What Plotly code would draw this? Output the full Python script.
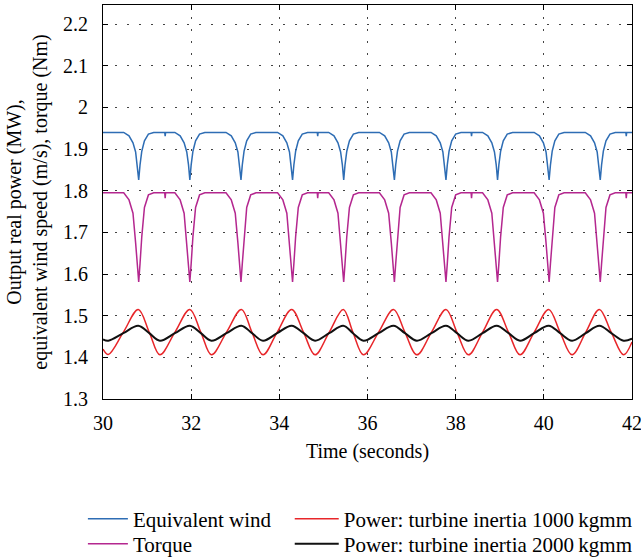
import plotly.graph_objects as go

# ---- data ----
dip_time = [30.0,
            30.47, 30.59, 30.68, 30.74, 30.78, 30.81, 30.84, 30.88, 30.94, 31.03, 31.15,
            31.40, 31.41, 31.42,
            31.63, 31.75, 31.84, 31.90, 31.94, 31.97, 32.00, 32.04, 32.10, 32.19, 32.31,
            32.79, 32.91, 33.00, 33.06, 33.10, 33.13, 33.16, 33.20, 33.26, 33.35, 33.47,
            33.96, 34.08, 34.17, 34.23, 34.27, 34.30, 34.33, 34.37, 34.43, 34.52, 34.64,
            34.86, 34.87, 34.88,
            35.12, 35.24, 35.33, 35.39, 35.43, 35.46, 35.49, 35.53, 35.59, 35.68, 35.80,
            36.27, 36.39, 36.48, 36.54, 36.58, 36.61, 36.64, 36.68, 36.74, 36.83, 36.95,
            37.44, 37.56, 37.65, 37.71, 37.75, 37.78, 37.81, 37.85, 37.91, 38.00, 38.12,
            38.35, 38.36, 38.37,
            38.61, 38.73, 38.82, 38.88, 38.92, 38.95, 38.98, 39.02, 39.08, 39.17, 39.29,
            39.78, 39.90, 39.99, 40.05, 40.09, 40.12, 40.15, 40.19, 40.25, 40.34, 40.46,
            40.94, 41.06, 41.15, 41.21, 41.25, 41.28, 41.31, 41.35, 41.41, 41.50, 41.62,
            41.86, 41.87, 41.88,
            42.0]

wind = [1.940,
        1.940, 1.932, 1.915, 1.893, 1.862, 1.826, 1.862, 1.895, 1.920, 1.936, 1.940,
        1.940, 1.931, 1.940,
        1.940, 1.932, 1.915, 1.893, 1.862, 1.826, 1.862, 1.895, 1.920, 1.936, 1.940,
        1.940, 1.932, 1.915, 1.893, 1.862, 1.826, 1.862, 1.895, 1.920, 1.936, 1.940,
        1.940, 1.932, 1.915, 1.893, 1.862, 1.826, 1.862, 1.895, 1.920, 1.936, 1.940,
        1.940, 1.931, 1.940,
        1.940, 1.932, 1.915, 1.893, 1.862, 1.826, 1.862, 1.895, 1.920, 1.936, 1.940,
        1.940, 1.932, 1.915, 1.893, 1.862, 1.826, 1.862, 1.895, 1.920, 1.936, 1.940,
        1.940, 1.932, 1.915, 1.893, 1.862, 1.826, 1.862, 1.895, 1.920, 1.936, 1.940,
        1.940, 1.931, 1.940,
        1.940, 1.932, 1.915, 1.893, 1.862, 1.826, 1.862, 1.895, 1.920, 1.936, 1.940,
        1.940, 1.932, 1.915, 1.893, 1.862, 1.826, 1.862, 1.895, 1.920, 1.936, 1.940,
        1.940, 1.932, 1.915, 1.893, 1.862, 1.826, 1.862, 1.895, 1.920, 1.936, 1.940,
        1.940, 1.931, 1.940,
        1.940]

torque = [1.795,
          1.795, 1.778, 1.746, 1.675, 1.620, 1.581, 1.625, 1.690, 1.760, 1.790, 1.795,
          1.795, 1.782, 1.795,
          1.795, 1.778, 1.746, 1.675, 1.620, 1.581, 1.625, 1.690, 1.760, 1.790, 1.795,
          1.795, 1.778, 1.746, 1.675, 1.620, 1.581, 1.625, 1.690, 1.760, 1.790, 1.795,
          1.795, 1.778, 1.746, 1.675, 1.620, 1.581, 1.625, 1.690, 1.760, 1.790, 1.795,
          1.795, 1.782, 1.795,
          1.795, 1.778, 1.746, 1.675, 1.620, 1.581, 1.625, 1.690, 1.760, 1.790, 1.795,
          1.795, 1.778, 1.746, 1.675, 1.620, 1.581, 1.625, 1.690, 1.760, 1.790, 1.795,
          1.795, 1.778, 1.746, 1.675, 1.620, 1.581, 1.625, 1.690, 1.760, 1.790, 1.795,
          1.795, 1.782, 1.795,
          1.795, 1.778, 1.746, 1.675, 1.620, 1.581, 1.625, 1.690, 1.760, 1.790, 1.795,
          1.795, 1.778, 1.746, 1.675, 1.620, 1.581, 1.625, 1.690, 1.760, 1.790, 1.795,
          1.795, 1.778, 1.746, 1.675, 1.620, 1.581, 1.625, 1.690, 1.760, 1.790, 1.795,
          1.795, 1.782, 1.795,
          1.795]

power_time = [30.0, 30.12, 30.46, 30.80, 31.05, 31.29, 31.63, 31.97, 32.22, 32.46,
              32.80, 33.14, 33.38, 33.63, 33.95, 34.28, 34.55, 34.81, 35.13, 35.45,
              35.67, 35.91, 36.25, 36.59, 36.85, 37.12, 37.45, 37.78, 38.03, 38.29,
              38.61, 38.93, 39.20, 39.46, 39.78, 40.11, 40.37, 40.64, 40.95, 41.26,
              41.53, 41.81, 42.0]

power_1000 = [1.420, 1.407, 1.460, 1.515, 1.460, 1.406, 1.460, 1.515, 1.460, 1.406,
              1.460, 1.515, 1.460, 1.406, 1.460, 1.515, 1.460, 1.406, 1.460, 1.515,
              1.460, 1.406, 1.460, 1.515, 1.460, 1.406, 1.460, 1.515, 1.460, 1.406,
              1.460, 1.515, 1.460, 1.406, 1.460, 1.515, 1.460, 1.406, 1.460, 1.515,
              1.460, 1.406, 1.437]

power_2000 = [1.443, 1.440, 1.458, 1.476, 1.458, 1.440, 1.458, 1.476, 1.458, 1.440,
              1.458, 1.476, 1.458, 1.440, 1.458, 1.476, 1.458, 1.440, 1.458, 1.476,
              1.458, 1.440, 1.458, 1.476, 1.458, 1.440, 1.458, 1.476, 1.458, 1.440,
              1.458, 1.476, 1.458, 1.440, 1.458, 1.476, 1.458, 1.440, 1.458, 1.476,
              1.458, 1.440, 1.445]

x_ticks = [30, 32, 34, 36, 38, 40, 42]
y_ticks = [1.3, 1.4, 1.5, 1.6, 1.7, 1.8, 1.9, 2.0, 2.1, 2.2]

FONT = "Liberation Serif"
FS = 20
LFS = 21

fig = go.Figure()
fig.add_trace(go.Scatter(x=dip_time, y=wind, mode="lines", name="Equivalent wind",
                         line=dict(color="#2e6db4", width=1.5), legend="legend"))
fig.add_trace(go.Scatter(x=dip_time, y=torque, mode="lines", name="Torque",
                         line=dict(color="#b4278f", width=1.5), legend="legend3"))
fig.add_trace(go.Scatter(x=power_time, y=power_1000, mode="lines",
                         name="Power: turbine inertia 1000\u2009kgmm",
                         line=dict(color="#e8262a", width=1.5, shape="spline", smoothing=1),
                         legend="legend2"))
fig.add_trace(go.Scatter(x=power_time, y=power_2000, mode="lines",
                         name="Power: turbine inertia 2000\u2009kgmm",
                         line=dict(color="#111111", width=2, shape="spline", smoothing=1),
                         legend="legend4"))

axis_common = dict(showline=True, linecolor="black", linewidth=1, mirror="ticks",
                   ticks="inside", ticklen=5, tickcolor="black",
                   showgrid=True, gridcolor="#444444", gridwidth=1, griddash="2px,10px",
                   zeroline=False, automargin=False, ticklabeloverflow="allow",
                   tickfont=dict(family=FONT, size=FS, color="black"))

fig.update_xaxes(range=[30, 42], tickvals=x_ticks, ticklabelstandoff=6,
                 title=dict(text="Time (seconds)", font=dict(family=FONT, size=FS, color="black"),
                            standoff=10),
                 **axis_common)
fig.update_yaxes(range=[1.3, 2.246], tickvals=y_ticks,
                 ticktext=[("%g" % v) for v in y_ticks], ticklabelstandoff=10,
                 title=dict(text="Output real power (MW),<br>equivalent wind speed (m/s), torque (Nm)",
                            font=dict(family=FONT, size=FS, color="black"), standoff=10),
                 **axis_common)

legend_common = dict(orientation="v", bgcolor="rgba(0,0,0,0)", borderwidth=0,
                     font=dict(family=FONT, size=LFS, color="black"),
                     xanchor="left", yanchor="middle")
fig.update_layout(
    width=641, height=558,
    margin=dict(l=103, r=9, t=5, b=159, autoexpand=False),
    paper_bgcolor="white", plot_bgcolor="white",
    font=dict(family=FONT, size=FS, color="black"),
    showlegend=True,
    legend=dict(x=-0.038, y=-0.3046, itemwidth=40, **legend_common),
    legend3=dict(x=-0.038, y=-0.368, itemwidth=40, **legend_common),
    legend2=dict(x=0.353, y=-0.3046, itemwidth=44, **legend_common),
    legend4=dict(x=0.353, y=-0.368, itemwidth=44, **legend_common),
)

fig.write_html("out.html")
